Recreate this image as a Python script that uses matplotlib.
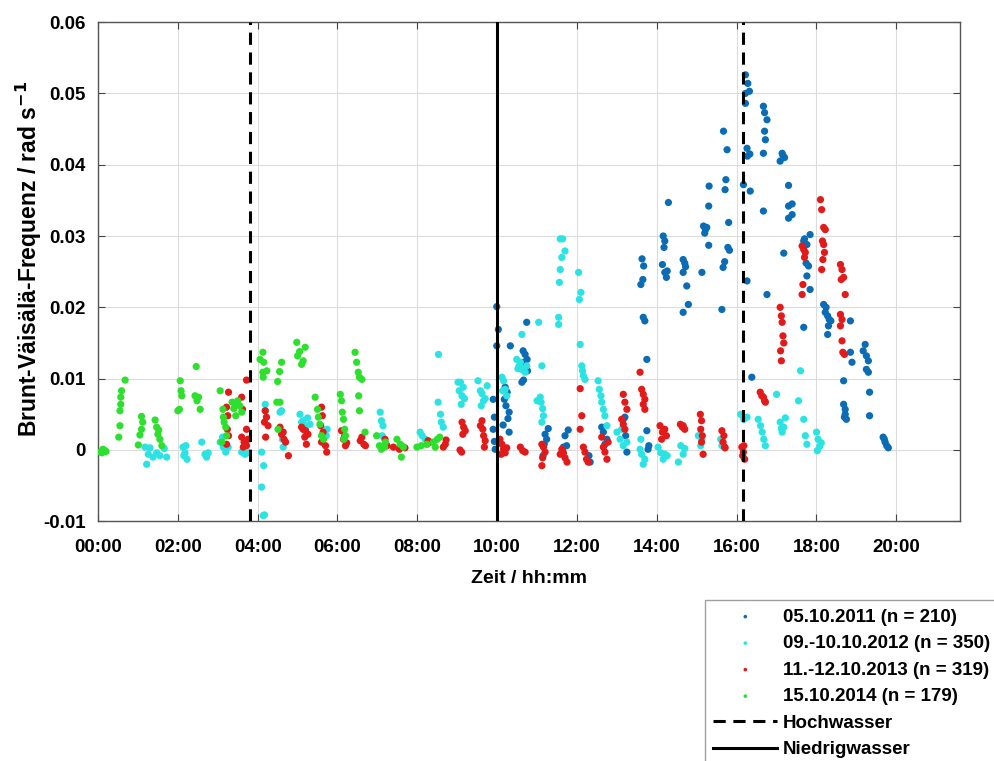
import numpy as np
import matplotlib.pyplot as plt

plt.rcParams['font.family'] = ['Liberation Sans', 'DejaVu Sans']
plt.rcParams['font.weight'] = 'bold'
plt.rcParams['mathtext.default'] = 'bf'

# time in hours after midnight, N in rad/s
t_2011 = [9.99, 10.03, 9.99, 9.9, 9.93, 9.9, 9.95, 9.93,
          10.33, 10.2, 10.25, 10.18, 10.22, 10.3, 10.27, 10.3, 10.15,
          10.74, 10.65, 10.7, 10.75, 10.68, 10.76, 10.62, 10.66,
          11.2, 11.24, 11.18, 11.15, 11.28,
          11.7, 11.74, 11.78, 11.66,
          12.33, 12.3,
          12.62, 12.66, 12.7, 12.75,
          13.16, 13.2, 13.25, 13.22,
          13.63, 13.67, 13.65, 13.6, 13.66, 13.7, 13.75, 13.75, 13.8, 13.78,
          14.29, 14.16, 14.2, 14.18, 14.14, 14.2, 14.24, 14.26,
          14.66, 14.7, 14.72, 14.66, 14.75, 14.66, 14.79,
          15.13, 15.17, 15.22, 15.2, 15.25, 15.3, 15.31, 15.3,
          15.67, 15.76, 15.73, 15.71, 15.8, 15.78, 15.82, 15.7, 15.66, 15.63,
          16.17, 16.22, 16.28, 16.32, 16.22, 16.22, 16.26, 16.33, 16.27, 16.34, 16.26, 16.38,
          16.67, 16.7, 16.76, 16.7, 16.72, 16.67, 16.67, 16.76,
          17.09, 17.16, 17.14, 17.2, 17.3, 17.3, 17.3, 17.18, 17.39, 17.39,
          17.68, 17.84, 17.68, 17.76, 17.8, 17.76, 17.84, 17.7, 17.74,
          18.18, 18.24, 18.22, 18.28, 18.32, 18.36, 18.3, 18.28,
          18.85, 18.85, 18.89, 18.68, 18.68, 18.72, 18.7, 18.75, 18.72,
          19.22, 19.17, 19.25, 19.3, 19.25, 19.3, 19.33, 19.33,
          19.67, 19.72, 19.76, 19.8, 19.7]
n_2011 = [0.0201, 0.0169, 0.0146, 0.0071, 0.0046, 0.0029, 0.0001, 0.0012,
          0.0146, 0.0088, 0.0081, 0.0071, 0.0062, 0.0053, 0.0044, 0.0025, 0.0035,
          0.0179, 0.0139, 0.0134, 0.0127, 0.0123, 0.0111, 0.0095, 0.0098,
          0.0022, 0.0015, 0.0008, -0.0008, 0.0030,
          0.0020, 0.0006, 0.0028, 0.0004,
          -0.0017, -0.0008,
          0.0032, 0.0025, 0.0008, 0.0015,
          0.0043, 0.0046, -0.0003, 0.0020,
          0.0268, 0.0258, 0.0239, 0.0232, 0.0186, 0.0181, 0.0127, 0.0027, 0.0006, 0.0001,
          0.0347, 0.0300, 0.0293, 0.0284, 0.0260, 0.0249, 0.0242, 0.0251,
          0.0267, 0.0262, 0.0257, 0.0249, 0.0230, 0.0193, 0.0204,
          0.0249, 0.0314, 0.0309, 0.0304, 0.0312, 0.0342, 0.0370, 0.0287,
          0.0447, 0.0421, 0.0379, 0.0365, 0.0319, 0.0284, 0.0280, 0.0264, 0.0256, 0.0197,
          0.0372, 0.0526, 0.0514, 0.0503, 0.0500, 0.0486, 0.0423, 0.0415, 0.0412, 0.0363, 0.0237, 0.0102,
          0.0482, 0.0473, 0.0463, 0.0447, 0.0435, 0.0416, 0.0335, 0.0218,
          0.0405, 0.0413, 0.0416, 0.0410, 0.0371, 0.0342, 0.0325, 0.0276, 0.0345, 0.0330,
          0.0172, 0.0302, 0.0293, 0.0288, 0.0258, 0.0244, 0.0225, 0.0296, 0.0262,
          0.0204, 0.0200, 0.0193, 0.0188, 0.0183, 0.0181, 0.0174, 0.0162,
          0.0181, 0.0137, 0.0123, 0.0097, 0.0064, 0.0057, 0.0046, 0.0043, 0.0050,
          0.0148, 0.0139, 0.0132, 0.0125, 0.0113, 0.0109, 0.0081, 0.0048,
          0.0018, 0.0011, 0.0006, 0.0003, 0.0015]

t_2012 = [1.18, 1.26, 1.22, 1.38, 1.47, 1.55, 1.72, 1.66, 1.3,
          2.13, 2.18, 2.23, 2.15, 2.2,
          2.6, 2.68, 2.72, 2.76,
          3.06, 3.14, 3.2, 3.26, 3.12,
          3.6, 3.68, 3.76,
          4.19, 4.19, 4.1, 4.15, 4.1, 4.14, 4.17,
          4.56, 4.6, 4.64, 4.62,
          5.06, 5.1, 5.14, 5.19, 5.25, 5.31, 5.2,
          5.74, 5.72,
          7.07, 7.1, 7.14, 7.12,
          8.07, 8.12, 8.2, 8.24,
          8.53, 8.52, 8.58, 8.6, 8.65,
          9.02, 9.08, 9.05, 9.12, 9.1, 9.15, 9.18,
          9.52, 9.58, 9.62, 9.66, 9.6, 9.7, 9.75,
          10.12, 10.16, 10.2, 10.24, 10.14,
          10.49, 10.55, 10.62, 10.58, 10.7, 10.74, 10.62, 10.52,
          11.04, 11.12, 11.08, 11.1, 11.14, 11.16, 11.12, 11.0,
          11.58, 11.64, 11.7, 11.62, 11.58, 11.56, 11.54, 11.54,
          12.04, 12.1, 12.06, 12.08, 12.12, 12.16, 12.14, 12.2,
          12.53, 12.56, 12.6, 12.62, 12.66, 12.7, 12.75,
          13.0, 13.08, 13.16, 13.25, 13.12,
          13.58, 13.62, 13.66, 13.7, 13.6,
          14.03, 14.1, 14.16, 14.2, 14.26,
          14.54, 14.6, 14.66, 14.7,
          15.04, 15.1, 15.13,
          15.6, 15.63,
          16.1, 16.18, 16.26,
          16.54, 16.6, 16.64, 16.68, 16.72,
          17.0, 17.09, 17.14, 17.18, 17.22, 17.12,
          17.6, 17.55, 17.68, 17.72, 17.76,
          18.0, 18.04, 18.08, 18.12, 18.02]
n_2012 = [0.0004, -0.0006, -0.0020, -0.0010, -0.0004, -0.0008, -0.0010, 0.0002, 0.0003,
          0.0004, -0.0004, -0.0013, -0.0008, 0.0006,
          0.0011, -0.0006, -0.0010, -0.0004,
          0.0011, 0.0004, -0.0003, 0.0004, 0.0018,
          -0.0003, -0.0006, -0.0004,
          0.0064, 0.0055, -0.0003, -0.0022, -0.0052, -0.0092, -0.0091,
          0.0053, 0.0055, 0.0004, 0.0015,
          0.0050, 0.0039, 0.0041, 0.0034, 0.0045, 0.0036, 0.0029,
          0.0029, 0.0020,
          0.0053, 0.0041, 0.0034, 0.0020,
          0.0025, 0.0020, 0.0015, 0.0008,
          0.0134, 0.0067, 0.0050, 0.0039, 0.0032,
          0.0095, 0.0095, 0.0083, 0.0076, 0.0064, 0.0088, 0.0072,
          0.0097, 0.0083, 0.0079, 0.0069, 0.0062, 0.0072, 0.0090,
          0.0102, 0.0097, 0.0085, 0.0076, 0.0083,
          0.0127, 0.0118, 0.0113, 0.0123, 0.0109, 0.0118, 0.0162, 0.0114,
          0.0179, 0.0118, 0.0074, 0.0067, 0.0058, 0.0048, 0.0039, 0.0069,
          0.0296, 0.0296, 0.0279, 0.0270, 0.0253, 0.0235, 0.0186, 0.0176,
          0.0249, 0.0221, 0.0211, 0.0148, 0.0118, 0.0104, 0.0111, 0.0099,
          0.0097, 0.0085, 0.0076, 0.0067, 0.0057, 0.0048, 0.0034,
          0.0025, 0.0015, 0.0006, 0.0011, 0.0029,
          0.0001, -0.0006, -0.0020, -0.0013, 0.0015,
          0.0004, -0.0004, -0.0013, -0.0006, -0.0008,
          -0.0017, 0.0006, -0.0006, 0.0002,
          0.0020, 0.0006, 0.0015,
          0.0015, 0.0006,
          0.0050, 0.0043, 0.0046,
          0.0043, 0.0034, 0.0025, 0.0015, 0.0006,
          0.0078, 0.0039, 0.0025, 0.0032, 0.0045, 0.0030,
          0.0111, 0.0069, 0.0043, 0.0020, 0.0008,
          0.0025, 0.0015, 0.0005, 0.0010, -0.0001]

t_2013 = [3.27, 3.22, 3.25, 3.24, 3.27, 3.22,
          3.6, 3.62, 3.6, 3.66, 3.64,
          3.72, 3.72, 3.76, 3.72,
          4.19, 4.22, 4.17, 4.26, 4.2,
          4.56, 4.6, 4.66, 4.64, 4.7, 4.77,
          5.1, 5.14, 5.2, 5.26, 5.18, 5.22,
          5.6, 5.62, 5.58, 5.64, 5.6, 5.7, 5.73,
          6.1, 6.15, 6.2, 6.23, 6.18,
          6.57, 6.61, 6.66, 6.7,
          7.19, 7.24, 7.4, 7.55, 7.6, 7.69,
          8.27, 8.32, 8.7, 8.72, 8.65,
          9.07, 9.12, 9.16, 9.2, 9.14, 9.11,
          9.62, 9.64, 9.66, 9.7, 9.68, 9.58,
          10.07, 10.12, 10.16, 10.2, 10.1, 10.24,
          10.58, 10.64, 10.7,
          11.12, 11.16, 11.2, 11.14, 11.12,
          11.62, 11.66, 11.7, 11.75, 11.58,
          12.08, 12.12, 12.08, 12.16, 12.2, 12.24, 12.28,
          12.62, 12.66, 12.7, 12.75, 12.78,
          13.12, 13.16, 13.2, 13.16, 13.2, 13.25,
          13.58, 13.62, 13.66, 13.7, 13.66, 13.7,
          14.08, 14.14, 14.12, 14.2, 14.24,
          14.59, 14.64, 14.7, 14.66,
          15.09, 15.12, 15.1, 15.14, 15.12, 15.16,
          15.63, 15.68, 15.66, 15.7, 15.71,
          16.13, 16.17, 16.15, 16.2, 16.18,
          16.59, 16.63, 16.67, 16.7, 16.72,
          17.09, 17.12, 17.14, 17.16, 17.18, 17.1, 17.12,
          17.64, 17.68, 17.72, 17.7, 17.66, 17.64,
          18.1, 18.13, 18.18, 18.22, 18.15, 18.18, 18.2, 18.16, 18.13,
          18.6, 18.64, 18.68, 18.62, 18.72, 18.6, 18.64, 18.6, 18.64, 18.66, 18.7]
n_2013 = [0.0081, 0.0060, 0.0048, 0.0029, 0.0020, 0.0008,
          0.0074, 0.0057, 0.0018, 0.0011, 0.0004,
          0.0098, 0.0029, 0.0015, 0.0006,
          0.0055, 0.0046, 0.0039, 0.0034, 0.0018,
          0.0032, 0.0022, 0.0015, 0.0025, 0.0011, -0.0008,
          0.0032, 0.0029, 0.0027, 0.0022, 0.0018, 0.0008,
          0.0060, 0.0048, 0.0034, 0.0025, 0.0011, 0.0006, -0.0003,
          0.0027, 0.0015, 0.0006, 0.0010, 0.0020,
          0.0013, 0.0018, 0.0008, 0.0006,
          0.0015, 0.0006, 0.0004, 0.0001, 0.0006, 0.0003,
          0.0013, 0.0011, 0.0008, 0.0014, 0.0004,
          0.0000, 0.0039, 0.0032, 0.0027, 0.0022, -0.0003,
          0.0041, 0.0029, 0.0020, 0.0013, 0.0004, 0.0034,
          0.0015, 0.0008, 0.0001, -0.0004, -0.0006, 0.0003,
          0.0004, -0.0001, -0.0003,
          0.0008, 0.0004, -0.0003, -0.0011, -0.0022,
          0.0001, -0.0004, -0.0011, -0.0017, -0.0006,
          0.0086, 0.0048, 0.0029, 0.0004, -0.0003, -0.0013, -0.0017,
          0.0018, 0.0004, -0.0003, -0.0013, 0.0011,
          0.0043, 0.0036, 0.0029, 0.0078, 0.0067, 0.0057,
          0.0109, 0.0085, 0.0078, 0.0071, 0.0064, 0.0057,
          0.0034, 0.0025, 0.0015, 0.0029, 0.0020,
          0.0036, 0.0032, 0.0029, 0.0034,
          0.0050, 0.0041, 0.0029, 0.0020, 0.0011, -0.0006,
          0.0027, 0.0020, 0.0011, 0.0004, 0.0003,
          0.0004, -0.0003, -0.0008, -0.0013, 0.0006,
          0.0081, 0.0076, 0.0074, 0.0069, 0.0067,
          0.0200, 0.0188, 0.0179, 0.0160, 0.0150, 0.0139, 0.0125,
          0.0286, 0.0281, 0.0277, 0.0270, 0.0232, 0.0218,
          0.0351, 0.0337, 0.0312, 0.0309, 0.0293, 0.0288, 0.0277, 0.0267, 0.0253,
          0.0260, 0.0253, 0.0242, 0.0239, 0.0218, 0.0190, 0.0183, 0.0174, 0.0153, 0.0137, 0.0134]

t_2014 = [0.05, 0.1, 0.15, 0.2, 0.12,
          0.68, 0.59, 0.57, 0.57, 0.55, 0.55, 0.52,
          1.09, 1.12, 1.09, 1.05, 1.01,
          1.43, 1.47, 1.5, 1.55, 1.6, 1.52,
          2.06, 2.08, 2.1, 2.04, 2.0,
          2.46, 2.43, 2.48, 2.56, 2.52,
          3.06, 3.13, 3.14, 3.16, 3.2, 3.22, 3.1,
          3.36, 3.4, 3.45, 3.5, 3.55, 3.6, 3.48,
          4.06, 4.13, 4.15, 4.13, 4.14, 4.23,
          4.5, 4.55, 4.6, 4.48, 4.51, 4.56,
          4.98, 5.0, 5.1, 5.14, 5.19, 5.05,
          5.44, 5.5, 5.52, 5.56, 5.6, 5.65,
          6.07, 6.1, 6.12, 6.15, 6.18, 6.2, 6.16,
          6.44, 6.48, 6.52, 6.55, 6.61, 6.53, 6.55, 6.69,
          6.98, 7.05, 7.1, 7.2, 7.18,
          7.49, 7.57, 7.65, 7.6,
          7.99, 8.1, 8.24,
          8.4, 8.5, 8.56, 8.45]
n_2014 = [-0.0003, -0.0004, 0.0000, -0.0002, 0.0001,
          0.0098, 0.0083, 0.0074, 0.0064, 0.0055, 0.0034, 0.0018,
          0.0047, 0.0039, 0.0029, 0.0021, 0.0007,
          0.0042, 0.0032, 0.0022, 0.0015, 0.0006, 0.0028,
          0.0097, 0.0083, 0.0076, 0.0057, 0.0055,
          0.0117, 0.0076, 0.0069, 0.0057, 0.0074,
          0.0083, 0.0057, 0.0046, 0.0039, 0.0032, 0.0020, 0.0011,
          0.0067, 0.0058, 0.0048, 0.0069, 0.0062, 0.0053, 0.0064,
          0.0127, 0.0137, 0.0123, 0.0109, 0.0102, 0.0111,
          0.0096, 0.0110, 0.0123, 0.0067, 0.0029, 0.0067,
          0.0151, 0.0132, 0.0120, 0.0125, 0.0144, 0.0138,
          0.0074, 0.0057, 0.0046, 0.0036, 0.0020, 0.0015,
          0.0078, 0.0069, 0.0053, 0.0043, 0.0029, 0.0020, 0.0015,
          0.0137, 0.0123, 0.0109, 0.0102, 0.0099, 0.0076, 0.0055, 0.0025,
          0.0020, 0.0006, 0.0001, 0.0011, 0.0004,
          0.0015, 0.0008, 0.0004, -0.0010,
          0.0004, 0.0006, 0.0008,
          0.0011, 0.0015, 0.0018, 0.0004]

series_labels = ['05.10.2011 (n = 210)', '09.-10.10.2012 (n = 350)',
                 '11.-12.10.2013 (n = 319)', '15.10.2014 (n = 179)']
series_colors = ['#0a6cb4', '#2ce3e3', '#e31a1a', '#2ee02e']

hochwasser = [3.81, 16.17]   # hours
niedrigwasser = [10.0]

xticks = np.arange(0, 21, 2)
xtick_labels = ['00:00', '02:00', '04:00', '06:00', '08:00', '10:00',
                '12:00', '14:00', '16:00', '18:00', '20:00']
yticks = [-0.01, 0, 0.01, 0.02, 0.03, 0.04, 0.05, 0.06]
ytick_labels = ['-0.01', '0', '0.01', '0.02', '0.03', '0.04', '0.05', '0.06']

fig = plt.figure(figsize=(9.95, 7.61), dpi=100)
ax = fig.add_axes([0.0985, 0.315, 0.8665, 0.656])

handles = []
for t, n, c, lab in zip([t_2011, t_2012, t_2013, t_2014],
                        [n_2011, n_2012, n_2013, n_2014],
                        series_colors, series_labels):
    h = ax.scatter(t, n, s=27, color=c, edgecolors='none', label=lab, zorder=3)
    handles.append(h)

for i, hw in enumerate(hochwasser):
    ln = ax.axvline(hw, color='black', lw=2.2, ls=(0, (4, 2.5)), zorder=4)
    if i == 0:
        handles.append(ln)
        ln.set_label('Hochwasser')
for nw in niedrigwasser:
    ln = ax.axvline(nw, color='black', lw=2.2, zorder=4, label='Niedrigwasser')
    handles.append(ln)

ax.set_xlim(0, 21.6)
ax.set_ylim(-0.01, 0.06)
ax.set_xticks(xticks)
ax.set_xticklabels(xtick_labels)
ax.set_yticks(yticks)
ax.set_yticklabels(ytick_labels)
ax.tick_params(direction='in', top=True, right=True, labelsize=13.5,
               length=5, width=0.8, color='#444444')
ax.tick_params(axis='x', pad=13)
ax.tick_params(axis='y', pad=9)
ax.grid(True, color='#dcdcdc', lw=0.8)
ax.set_axisbelow(True)
for sp in ax.spines.values():
    sp.set_color('#555555')
    sp.set_linewidth(1.0)

ax.set_xlabel('Zeit / hh:mm', fontsize=14, fontweight='bold', labelpad=10)
ax.set_ylabel(r'Brunt-Väisälä-Frequenz / rad s$^{-1}$', fontsize=16.5,
              fontweight='bold')
ax.yaxis.set_label_coords(-0.063, 0.525)

fig.legend(handles=handles, loc='upper left',
           bbox_to_anchor=(705 / 995, 1 - 600 / 761),
           fontsize=13.5, frameon=True, fancybox=False, edgecolor='#888888',
           handlelength=3.4, handletextpad=0.3, labelspacing=0.5,
           markerscale=0.5, borderpad=0.45, borderaxespad=0)

fig.savefig('out.png', dpi=100)
